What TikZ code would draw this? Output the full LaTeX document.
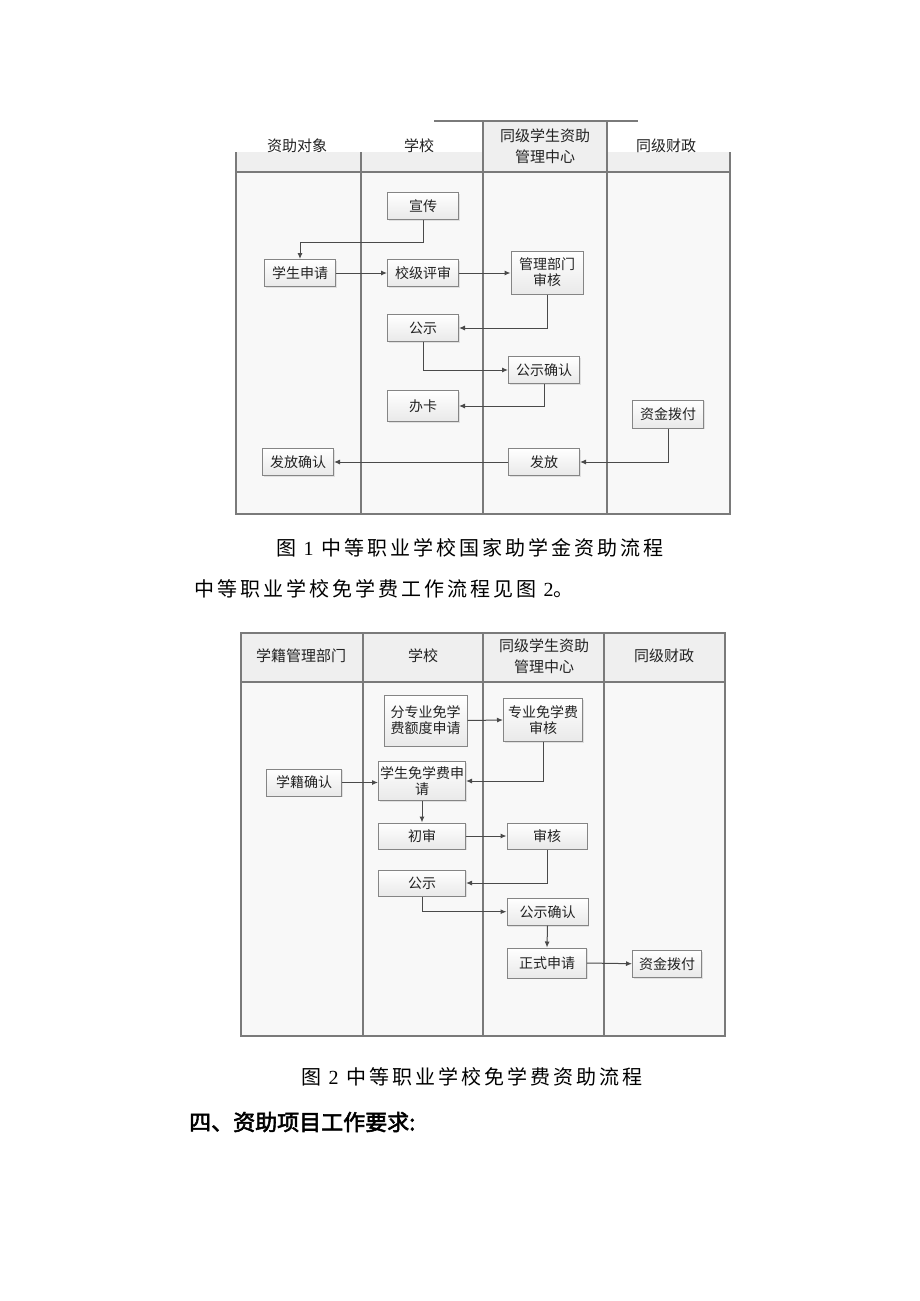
\documentclass[tikz,border=0pt]{standalone}
\usepackage{fontspec}
\setmainfont{Noto Sans CJK SC}
\newfontfamily\capfam{Noto Sans CJK SC}[LetterSpace=15]
\newfontfamily\headfam{Noto Sans CJK SC}[FakeBold=2.5]
\newfontfamily\serifd{Liberation Serif}
\usetikzlibrary{arrows.meta,shadows}
\definecolor{laneline}{HTML}{7A7A7A}
\definecolor{lanebg}{HTML}{F8F8F8}
\definecolor{headbg}{HTML}{EFEFEF}
\definecolor{boxline}{HTML}{858585}
\definecolor{boxbot}{HTML}{E9E9E9}
\definecolor{txt}{HTML}{222222}
\definecolor{arrline}{HTML}{4A4A4A}
\tikzset{
  box/.style={draw=boxline, line width=1pt, top color=white, bottom color=boxbot,
    minimum height=27pt, minimum width=71pt, inner sep=1pt, align=center, text=txt,
    font=\fontsize{14}{16}\selectfont,
    drop shadow={opacity=0.2, shadow xshift=1.3pt, shadow yshift=-1.3pt}},
  arr/.style={-{Latex[length=6pt,width=5pt]}, line width=1pt, draw=arrline},
  lane/.style={draw=laneline, line width=1.4pt},
  headtxt/.style={text=txt, align=center, font=\fontsize{15}{21}\selectfont},
  captxt/.style={anchor=west, text=black, inner sep=0pt, font=\fontsize{20}{24}\capfam}
}
\begin{document}
\begin{tikzpicture}[x=1pt,y=-1pt]
\useasboundingbox[fill=white] (0,0) rectangle (920,1301);

% ---------------- Diagram 1 ----------------
\fill[lanebg] (236,152) rectangle (730,514);
\fill[headbg] (236,152) rectangle (730,172);
\fill[headbg] (483,121) rectangle (607,152);
\draw[lane] (434,121) -- (638,121);
\draw[lane] (236,152) -- (236,514) -- (730,514) -- (730,152);
\draw[lane] (236,172) -- (730,172);
\draw[lane] (361,152) -- (361,514);
\draw[lane] (483,121) -- (483,514);
\draw[lane] (607,121) -- (607,514);

\node[headtxt] (h11) at (297,146) {资助对象};
\node[headtxt] (h12) at (419,146) {学校};
\node[headtxt] (h13) at (545,146) {同级学生资助\\管理中心};
\node[headtxt] (h14) at (666,146) {同级财政};

\node[box] (xc) at (423,206) {宣传};
\node[box] (sq) at (300,273) {学生申请};
\node[box] (jp) at (423,273) {校级评审};
\node[box, minimum width=72pt, minimum height=43pt] (gl) at (547,272.5) {管理部门\\审核};
\node[box] (gs) at (423,328) {公示};
\node[box] (gq) at (544,370) {公示确认};
\node[box, minimum height=31pt] (bk) at (423,406) {办卡};
\node[box, minimum height=28pt] (zj) at (668,414) {资金拨付};
\node[box] (ff) at (544,462) {发放};
\node[box] (fq) at (298,462) {发放确认};

\draw[arr] (xc.south) -- ++(0,22.5) -| (sq.north);
\draw[arr] (sq.east) -- (jp.west);
\draw[arr] (jp.east) -- (gl.west |- jp.east);
\draw[arr] (gl.south) |- (gs.east);
\draw[arr] (gs.south) |- (gq.west);
\draw[arr] (gq.south) |- (bk.east);
\draw[arr] (zj.south) |- (ff.east);
\draw[arr] (ff.west) -- (fq.east);

% ---------------- Captions ----------------
\node[captxt] (cap1) at (276,548) {图 {\serifd 1} 中等职业学校国家助学金资助流程};
\node[captxt] (line2) at (194,589) {中等职业学校免学费工作流程见图 {\serifd 2}。};

% ---------------- Diagram 2 ----------------
\fill[lanebg] (241,633) rectangle (725,1036);
\fill[headbg] (241,633) rectangle (725,682);
\draw[lane] (241,633) rectangle (725,1036);
\draw[lane] (241,682) -- (725,682);
\draw[lane] (363,633) -- (363,1036);
\draw[lane] (483,633) -- (483,1036);
\draw[lane] (604,633) -- (604,1036);

\node[headtxt] (h21) at (301,656) {学籍管理部门};
\node[headtxt] (h22) at (423,656) {学校};
\node[headtxt] (h23) at (544,656) {同级学生资助\\管理中心};
\node[headtxt] (h24) at (664,656) {同级财政};

\node[box, minimum width=83pt, minimum height=51pt] (fz) at (425.5,720.5) {分专业免学\\费额度申请};
\node[box, minimum width=79pt, minimum height=43pt] (zs) at (543,720) {专业免学费\\审核};
\node[box, minimum width=87pt, minimum height=39pt] (xs) at (422,781) {学生免学费申\\请};
\node[box, minimum width=75pt] (xj) at (304,782.5) {学籍确认};
\node[box, minimum width=87pt, minimum height=26pt] (cs) at (422,836) {初审};
\node[box, minimum width=80pt, minimum height=26pt] (sh) at (547,836) {审核};
\node[box, minimum width=87pt, minimum height=26pt] (gs2) at (422,883) {公示};
\node[box, minimum width=81pt] (gq2) at (547.5,911.7) {公示确认};
\node[box, minimum width=79pt, minimum height=30pt] (zs2) at (547,963) {正式申请};
\node[box, minimum width=69pt] (zj2) at (667,963.7) {资金拨付};

\draw[arr] (fz.east) -- (zs.west);
\draw[arr] (zs.south) |- (xs.east);
\draw[arr] (xj.east) -- (xs.west |- xj.east);
\draw[arr] (xs.south) -- (cs.north);
\draw[arr] (cs.east) -- (sh.west);
\draw[arr] (sh.south) |- (gs2.east);
\draw[arr] (gs2.south) |- (gq2.west);
\draw[arr] (gq2.south) -- (zs2.north);
\draw[arr] (zs2.east) -- (zj2.west);

\node[captxt] (cap2) at (301,1077) {图 {\serifd 2} 中等职业学校免学费资助流程};
\node[anchor=west, inner sep=0pt, font=\fontsize{22}{26}\headfam] (head) at (189,1122) {四、资助项目工作要求:};
\end{tikzpicture}
\end{document}
